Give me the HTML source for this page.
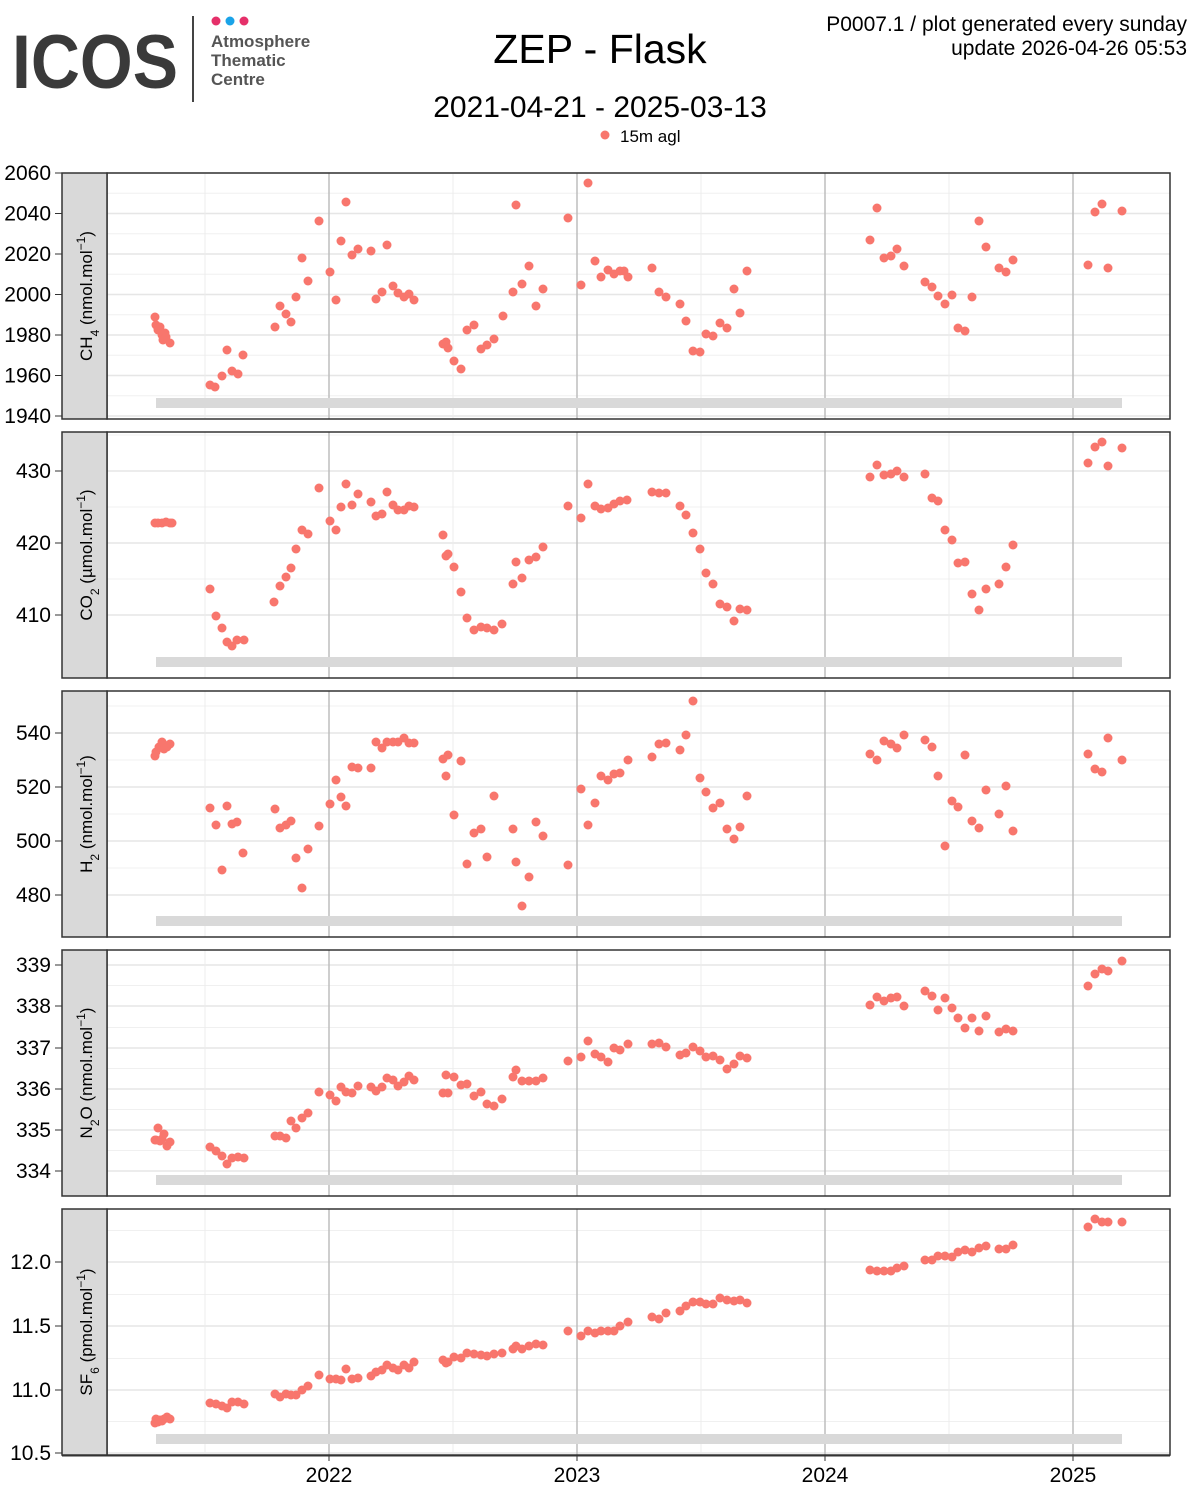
<!DOCTYPE html>
<html><head><meta charset="utf-8"><style>
body{margin:0;background:#fff;width:1200px;height:1500px;overflow:hidden;font-family:"Liberation Sans",sans-serif}
</style></head><body>
<svg width="1200" height="1500" xmlns="http://www.w3.org/2000/svg" font-family="Liberation Sans, sans-serif">
<rect width="1200" height="1500" fill="#fff"/>
<text x="12" y="88" font-size="76" font-weight="bold" fill="#3a3a3a" textLength="166" lengthAdjust="spacingAndGlyphs">ICOS</text>
<line x1="193" y1="16" x2="193" y2="102" stroke="#444" stroke-width="2"/>
<circle cx="216" cy="21" r="4.5" fill="#e5306a"/><circle cx="230" cy="21" r="4.5" fill="#1aa3e8"/><circle cx="244" cy="21" r="4.5" fill="#e5306a"/>
<g font-size="17" font-weight="bold" fill="#555"><text x="211" y="47">Atmosphere</text><text x="211" y="66">Thematic</text><text x="211" y="85">Centre</text></g>
<text x="600" y="63" font-size="41" text-anchor="middle">ZEP - Flask</text>
<text x="600" y="117" font-size="30" text-anchor="middle">2021-04-21 - 2025-03-13</text>
<circle cx="605" cy="135" r="4.5" fill="#f8766d"/><text x="620" y="142" font-size="17">15m agl</text>
<text x="1187" y="31" font-size="21" text-anchor="end">P0007.1 / plot generated every sunday</text>
<text x="1187" y="55" font-size="21" text-anchor="end">update  2026-04-26 05:53</text>
<g id="panels"></g>
<g font-size="21" text-anchor="middle"><text x="329" y="1482">2022</text><text x="577" y="1482">2023</text><text x="825" y="1482">2024</text><text x="1073" y="1482">2025</text></g>
</svg>
<script>
const NS="http://www.w3.org/2000/svg";
const g=document.getElementById("panels");
function el(t,a,txt){const e=document.createElementNS(NS,t);for(const k in a)e.setAttribute(k,a[k]);if(txt!==undefined)e.textContent=txt;g.appendChild(e);return e;}
const P=[
{y0:173,lab:"CH<tspan baseline-shift='sub' font-size='12'>4</tspan> (nmol.mol<tspan baseline-shift='super' font-size='12'>−1</tspan>)",ticks:[[1940,416],[1960,375.5],[1980,335],[2000,294.5],[2020,254],[2040,213.5],[2060,173]],
pts:"155,317 156,325 158,330 160,327 162,335 163,340 165,333 166,337 170,343 210,385 215,387 222,376 227,350 232,371 238,374 243,355 275,327 280,306 286,314 291,322 296,297 302,258 308,281 319,221 330,272 336,300 341,241 346,202 352,255 358,249 371,251 376,299 382,292 387,245 393,286 398,293 404,297 409,294 414,300 443,344 446,342 448,348 454,361 461,369 467,330 474,325 481,349 487,345 494,339 503,316 513,292 516,205 522,284 529,266 536,306 543,289 568,218 581,285 588,183 595,261 601,277 608,270 614,274 620,271 624,271 628,277 652,268 659,292 666,297 680,304 686,321 693,351 700,352 706,334 713,336 720,323 727,328 734,289 740,313 747,271 870,240 877,208 884,258 891,256 897,249 904,266 925,282 932,287 938,296 945,304 952,295 958,328 965,331 972,297 979,221 986,247 999,268 1006,272 1013,260 1088,265 1095,212 1102,204 1108,268 1122,211"},
{y0:432,lab:"CO<tspan baseline-shift='sub' font-size='12'>2</tspan> (µmol.mol<tspan baseline-shift='super' font-size='12'>−1</tspan>)",ticks:[[410,615],[420,543],[430,471]],
pts:"155,523 158,523 162,523 166,522 170,523 172,523 210,589 216,616 222,628 227,642 232,646 237,640 244,640 274,602 280,586 286,577 291,568 296,549 302,530 308,534 319,488 330,521 336,530 341,507 346,484 352,505 358,494 371,502 376,516 382,514 387,492 393,505 398,510 404,510 409,506 414,507 443,535 446,556 448,554 454,567 461,592 467,618 474,630 481,627 487,628 494,630 502,624 513,584 516,562 522,578 529,560 536,557 543,547 568,506 581,518 588,484 595,506 601,509 608,508 614,504 620,501 627,500 652,492 659,493 666,493 680,506 686,515 693,533 700,549 706,573 713,584 720,604 727,607 734,621 740,609 747,610 870,477 877,465 884,475 891,474 897,471 904,477 925,474 932,498 938,501 945,530 952,540 958,563 965,562 972,594 979,610 986,589 999,584 1006,567 1013,545 1088,463 1095,447 1102,442 1108,466 1122,448"},
{y0:691,lab:"H<tspan baseline-shift='sub' font-size='12'>2</tspan> (nmol.mol<tspan baseline-shift='super' font-size='12'>−1</tspan>)",ticks:[[480,895],[500,841],[520,787],[540,733]],
pts:"155,756 156,752 159,747 162,742 164,749 167,747 170,744 210,808 216,825 222,870 227,806 232,824 237,822 243,853 275,809 280,828 286,825 291,821 296,858 302,888 308,849 319,826 330,804 336,780 341,797 346,806 352,767 358,768 371,768 376,742 382,748 387,742 393,742 398,742 404,738 409,743 414,743 443,759 446,776 448,755 454,815 461,761 467,864 474,833 481,829 487,857 494,796 513,829 516,862 522,906 529,877 536,822 543,836 568,865 581,789 588,825 595,803 601,776 608,780 614,774 620,773 628,760 652,757 659,744 666,743 680,750 686,735 693,701 700,778 706,792 713,808 720,803 727,829 734,839 740,827 747,796 870,754 877,760 884,741 891,744 897,748 904,735 925,740 932,747 938,776 945,846 952,801 958,807 965,755 972,821 979,828 986,790 999,814 1006,786 1013,831 1088,754 1095,769 1102,772 1108,738 1122,760"},
{y0:950,lab:"N<tspan baseline-shift='sub' font-size='12'>2</tspan>O (nmol.mol<tspan baseline-shift='super' font-size='12'>−1</tspan>)",ticks:[[334,1171],[335,1130],[336,1089],[337,1048],[338,1006],[339,965]],
pts:"155,1140 156,1140 158,1128 160,1141 162,1139 164,1134 167,1146 170,1142 210,1147 216,1151 222,1156 227,1164 232,1158 238,1157 244,1158 275,1136 280,1136 286,1138 291,1121 296,1128 302,1118 308,1113 319,1092 330,1095 336,1101 341,1087 346,1092 352,1093 358,1086 371,1087 376,1091 382,1087 387,1078 393,1080 398,1086 404,1082 409,1076 414,1080 443,1093 446,1075 448,1093 454,1077 461,1085 467,1084 474,1096 481,1092 487,1104 494,1106 502,1099 513,1077 516,1070 522,1081 529,1081 536,1081 543,1078 568,1061 581,1057 588,1041 595,1054 601,1057 608,1062 614,1048 620,1050 628,1044 652,1044 659,1043 666,1047 680,1055 686,1053 693,1047 700,1051 706,1057 713,1056 720,1060 727,1069 734,1064 740,1056 747,1058 870,1005 877,997 884,1001 891,998 897,997 904,1006 925,991 932,996 938,1010 945,998 952,1008 958,1018 965,1028 972,1018 979,1031 986,1016 999,1032 1006,1029 1013,1031 1088,986 1095,974 1102,969 1108,971 1122,961"},
{y0:1209,lab:"SF<tspan baseline-shift='sub' font-size='12'>6</tspan> (pmol.mol<tspan baseline-shift='super' font-size='12'>−1</tspan>)",ticks:[["10.5",1453],["11.0",1390],["11.5",1326],["12.0",1262]],
pts:"155,1423 156,1419 158,1422 160,1420 162,1421 164,1419 167,1417 170,1419 210,1403 216,1404 222,1406 227,1408 232,1402 238,1402 244,1404 275,1394 280,1397 286,1394 291,1395 296,1395 302,1390 308,1386 319,1375 330,1379 336,1379 341,1380 346,1369 352,1379 358,1378 371,1376 376,1372 382,1370 387,1365 393,1368 398,1370 404,1365 409,1368 414,1362 443,1360 446,1363 448,1362 454,1357 461,1358 467,1353 474,1354 481,1355 487,1356 494,1354 502,1353 513,1349 516,1346 522,1349 529,1346 536,1344 543,1345 568,1331 581,1336 588,1331 595,1333 601,1331 608,1331 614,1331 620,1326 628,1322 652,1317 659,1319 666,1313 680,1311 686,1306 693,1302 700,1302 706,1304 713,1304 720,1298 727,1300 734,1301 740,1300 747,1303 870,1270 877,1271 884,1271 891,1271 897,1268 904,1266 925,1260 932,1260 938,1256 945,1256 952,1257 958,1252 965,1250 972,1252 979,1248 986,1246 999,1249 1006,1249 1013,1245 1088,1227 1095,1219 1102,1222 1108,1222 1122,1222"}
];
for(const p of P){
 const y0=p.y0,y1=y0+246;
 const t=p.ticks;const step=t[1][1]-t[0][1];
 for(let i=0;i<t.length;i++){
  el("line",{x1:107,x2:1170,y1:t[i][1],y2:t[i][1],stroke:"#e6e6e6","stroke-width":1.5});
  const m=t[i][1]+step/2; if(m>y0&&m<y1) el("line",{x1:107,x2:1170,y1:m,y2:m,stroke:"#f0f0f0","stroke-width":1});
 }
 const last=t[t.length-1][1]; if(last+step/2>y0) el("line",{x1:107,x2:1170,y1:last+step/2,y2:last+step/2,stroke:"#f0f0f0"});
 for(const x of [205,453,701,949]) el("line",{x1:x,x2:x,y1:y0,y2:y1,stroke:"#ececec","stroke-width":1});
 for(const x of [329,577,825,1073]) el("line",{x1:x,x2:x,y1:y0,y2:y1,stroke:"#bdbdbd","stroke-width":1.5});
 el("rect",{x:156,y:y1-21,width:966,height:10,fill:"#d9d9d9"});
 for(const s of p.pts.split(" ")){const [x,y]=s.split(",");el("circle",{cx:x,cy:y,r:4.5,fill:"#f8766d"});}
 el("rect",{x:107,y:y0,width:1063,height:246,fill:"none",stroke:"#333","stroke-width":1.5});
 el("rect",{x:62,y:y0,width:45,height:246,fill:"#d9d9d9",stroke:"#333","stroke-width":1.5});
 for(const [v,y] of t){el("text",{x:51,y:y+7,"font-size":21,"text-anchor":"end"},String(v));el("line",{x1:55,x2:62,y1:y,y2:y,stroke:"#333"});}
 const tx=el("text",{x:0,y:0,"font-size":17,"text-anchor":"middle",transform:`translate(92,${y0+123}) rotate(-90)`});
 tx.innerHTML=p.lab;
}
el("line",{x1:62,x2:1170,y1:1456,y2:1456,stroke:"#333"});
for(const x of [329,577,825,1073]) el("line",{x1:x,x2:x,y1:1455,y2:1461,stroke:"#333"});
</script>
</body></html>
